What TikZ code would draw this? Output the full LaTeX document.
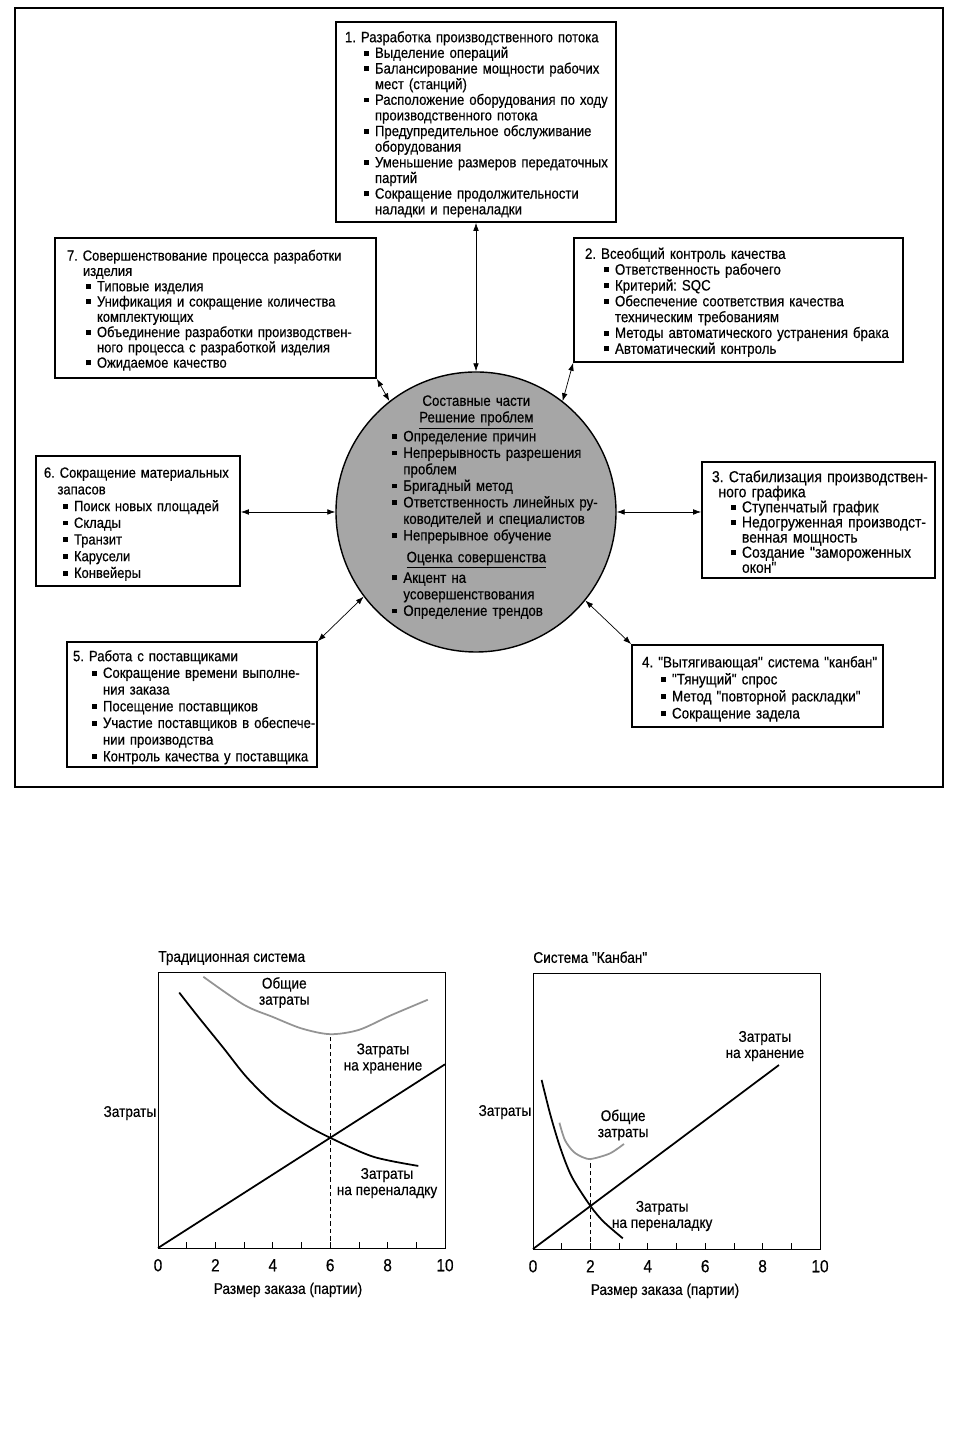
\documentclass[tikz,border=0pt]{standalone}
\usepackage{fontspec}
\setmainfont{Liberation Sans}[FakeStretch=0.88, FakeBold=0.4, Ligatures=TeXOff]
\usetikzlibrary{arrows.meta}
\frenchspacing

\newlength\bulind \setlength\bulind{0.38cm}
\newlength\txtind \setlength\txtind{0.6cm}
\newlength\boxin  \setlength\boxin{0.2cm}
\newcommand{\itm}{\par\hangindent=\txtind\hangafter=1\noindent
  \hbox to\txtind{\hskip\bulind\rule[.3ex]{2.8pt}{2.8pt}\hfil}\ignorespaces}
\newcommand{\hdr}[1][0.3cm]{\leftskip=\boxin\par\hangindent=#1\hangafter=1\noindent\ignorespaces}
\newcommand{\hd}[1]{\par\noindent\makebox[3.36cm]{#1}}

\begin{document}
\begin{tikzpicture}[
    box/.style={draw, line width=1pt, fill=white, align=left, inner sep=0pt},
    boxpad/.code={\setlength\boxin{#1}},
    hub/.style={circle, draw, line width=.8pt, fill=black!35, minimum size=5.6cm},
    hubtxt/.style={anchor=north west, inner sep=0pt, text width=4.3cm, align=left,
        font=\fontsize{8.6}{9.4}\selectfont},
    link/.style={thin, {Latex[length=4.5pt,width=3.2pt]}-{Latex[length=4.5pt,width=3.2pt]}},
    cost/.style={line width=1pt},
    total/.style={line width=1pt, black!42},
    lbl/.style={font=\fontsize{8.8}{9.2}\selectfont, align=center, inner sep=0pt},
    tick/.style={font=\fontsize{10}{10}\selectfont, inner sep=0pt}
]
\useasboundingbox (0,0) rectangle (19.04,28.64);
\draw[line width=.9pt] (0.30,12.90) rectangle (18.86,28.48);

% JIT scheme
\node[hub] (hub) at (9.52,18.40) {};
\node[hubtxt] (core) at (7.84,20.86) {\setlength\bulind{0pt}\setlength\txtind{0.22cm}%
  \hd{Составные части}
  \hd{\underline{Решение проблем}}
  \itm Определение причин
  \itm Непрерывность разрешения\newline проблем
  \itm Бригадный метод
  \itm Ответственность линейных ру-\newline ководителей и специалистов
  \itm Непрерывное обучение\par\vspace{3pt}
  \hd{\underline{Оценка совершенства}}\par\vspace{1pt}
  \itm Акцент на\newline усовершенствования
  \itm Определение трендов\par};

\node[box, text width=5.6cm, minimum height=4cm, boxpad=0.18cm,
      font=\fontsize{8.5}{8.9}\selectfont] (b1) at (9.52,26.20) {%
  \hdr 1. Разработка производственного потока
  \itm Выделение операций
  \itm Балансирование мощности рабочих\newline мест (станций)
  \itm Расположение оборудования по ходу\newline производственного потока
  \itm Предупредительное обслуживание\newline оборудования
  \itm Уменьшение размеров передаточных\newline партий
  \itm Сокращение продолжительности\newline наладки и переналадки\par};

\node[box, text width=6.58cm, minimum height=2.48cm, boxpad=0.22cm,
      font=\fontsize{8.6}{9}\selectfont] (b2) at (14.77,22.64) {%
  \hdr 2. Всеобщий контроль качества
  \itm Ответственность рабочего
  \itm Критерий: SQC
  \itm Обеспечение соответствия качества\newline техническим требованиям
  \itm Методы автоматического устранения брака
  \itm Автоматический контроль\par};

\node[box, text width=4.66cm, minimum height=2.32cm, boxpad=0.2cm,
      font=\fontsize{9}{8.6}\selectfont] (b3) at (16.37,18.24) {%
  \hdr[0.13cm] 3. Стабилизация производствен-\newline ного графика
  \itm Ступенчатый график
  \itm Недогруженная производст-\newline венная мощность
  \itm Создание "замороженных\newline окон"\par};

\node[box, text width=5.02cm, minimum height=1.64cm, boxpad=0.2cm,
      font=\fontsize{8.7}{9.7}\selectfont] (b4) at (15.15,14.92) {%
  \hdr 4. "Вытягивающая" система "канбан"
  \itm "Тянущий" спрос
  \itm Метод "повторной раскладки"
  \itm Сокращение задела\par};

\node[box, text width=5cm, minimum height=2.5cm, boxpad=0.12cm,
      font=\fontsize{8.5}{9.5}\selectfont] (b5) at (3.84,14.55) {%
  \hdr 5. Работа с поставщиками
  \itm Сокращение времени выполне-\newline ния заказа
  \itm Посещение поставщиков
  \itm Участие поставщиков в обеспече-\newline нии производства
  \itm Контроль качества у поставщика\par};

\node[box, text width=4.08cm, minimum height=2.6cm, boxpad=0.16cm,
      font=\fontsize{8.4}{9.5}\selectfont] (b6) at (2.76,18.22) {%
  \hdr[0.27cm] 6. Сокращение материальных\newline запасов
  \itm Поиск новых площадей
  \itm Склады
  \itm Транзит
  \itm Карусели
  \itm Конвейеры\par};

\node[box, text width=6.42cm, minimum height=2.8cm, boxpad=0.24cm,
      font=\fontsize{8.4}{8.7}\selectfont] (b7) at (4.31,22.48) {%
  \hdr[0.32cm] 7. Совершенствование процесса разработки\newline изделия
  \itm Типовые изделия
  \itm Унификация и сокращение количества\newline комплектующих
  \itm Объединение разработки производствен-\newline ного процесса с разработкой изделия
  \itm Ожидаемое качество\par};

\draw[link] (b1) -- (hub);
\draw[link] (b2.south west) -- (hub.52);
\draw[link] (hub.east -| b3.west) -- (hub.east);
\draw[link] (b4.north west) -- (hub.-39);
\draw[link] (b5.north east) -- (hub.217);
\draw[link] (hub.west -| b6.east) -- (hub.west);
\draw[link] (b7.south east) -- (hub.128);

% traditional system
\begin{scope}[shift={(3.16,3.68)}, x=0.574cm, y=0.574cm]
  \draw[thin] (0,0) rectangle (10,9.6);
  \foreach \i in {1,...,9} \draw (\i,0) -- (\i,0.22);
  \foreach \i in {0,2,...,10} \node[tick] (ta\i) at (\i,-0.6) {\i};
  \draw[dashed, dash pattern=on 2.5pt off 1.7pt] (6,0) -- (6,7.45);
  \draw[total] plot[smooth] coordinates {(1.58,9.45) (3,8.47) (4,8.05) (5,7.65)
      (6,7.45) (7,7.6) (8.1,8.1) (9.4,8.65)};
  \draw[cost] plot[smooth] coordinates {(0.74,8.9) (1.35,8.12) (2.28,6.97) (3.09,5.95)
      (4.02,5.04) (5.06,4.34) (6,3.84) (7.5,3.18) (9.07,2.86)};
  \draw[cost] (0,0) -- (10,6.4);
  \node[lbl, anchor=base west] (ta) at (0,9.97) {Традиционная система};
  \node[lbl] (tot1) at (4.4,8.9) {Общие\\затраты};
  \node[lbl] (hold1) at (7.84,6.6) {Затраты\\на хранение};
  \node[lbl] (set1) at (7.98,2.26) {Затраты\\на переналадку};
  \node[lbl, anchor=east] (ya) at (-0.05,4.7) {Затраты};
  \node[lbl] (xa) at (4.53,-1.46) {Размер заказа (партии)};
\end{scope}

% kanban
\begin{scope}[shift={(10.66,3.66)}, x=0.574cm, y=0.574cm]
  \draw[thin] (0,0) rectangle (10,9.6);
  \foreach \i in {1,...,9} \draw (\i,0) -- (\i,0.22);
  \foreach \i in {0,2,...,10} \node[tick] (tb\i) at (\i,-0.6) {\i};
  \draw[dashed, dash pattern=on 2.5pt off 1.7pt] (2,0) -- (2,3.14);
  \draw[total] plot[smooth] coordinates {(0.92,4.4) (1.11,3.8) (1.41,3.39) (1.75,3.19)
      (2.04,3.14) (2.68,3.33) (3.17,3.66)};
  \draw[cost] plot[smooth] coordinates {(0.3,5.89) (0.59,4.73) (0.94,3.56) (1.35,2.52)
      (2,1.5) (2.46,0.95) (3.13,0.37)};
  \draw[cost] (0,0) -- (8.57,6.41);
  \node[lbl, anchor=base west] (tb) at (0,9.97) {Система "Канбан"};
  \node[lbl] (hold2) at (8.08,7.07) {Затраты\\на хранение};
  \node[lbl] (tot2) at (3.14,4.32) {Общие\\затраты};
  \node[lbl] (set2) at (4.5,1.15) {Затраты\\на переналадку};
  \node[lbl, anchor=east] (yb) at (-0.05,4.77) {Затраты};
  \node[lbl] (xb) at (4.6,-1.46) {Размер заказа (партии)};
\end{scope}
\end{tikzpicture}
\end{document}
